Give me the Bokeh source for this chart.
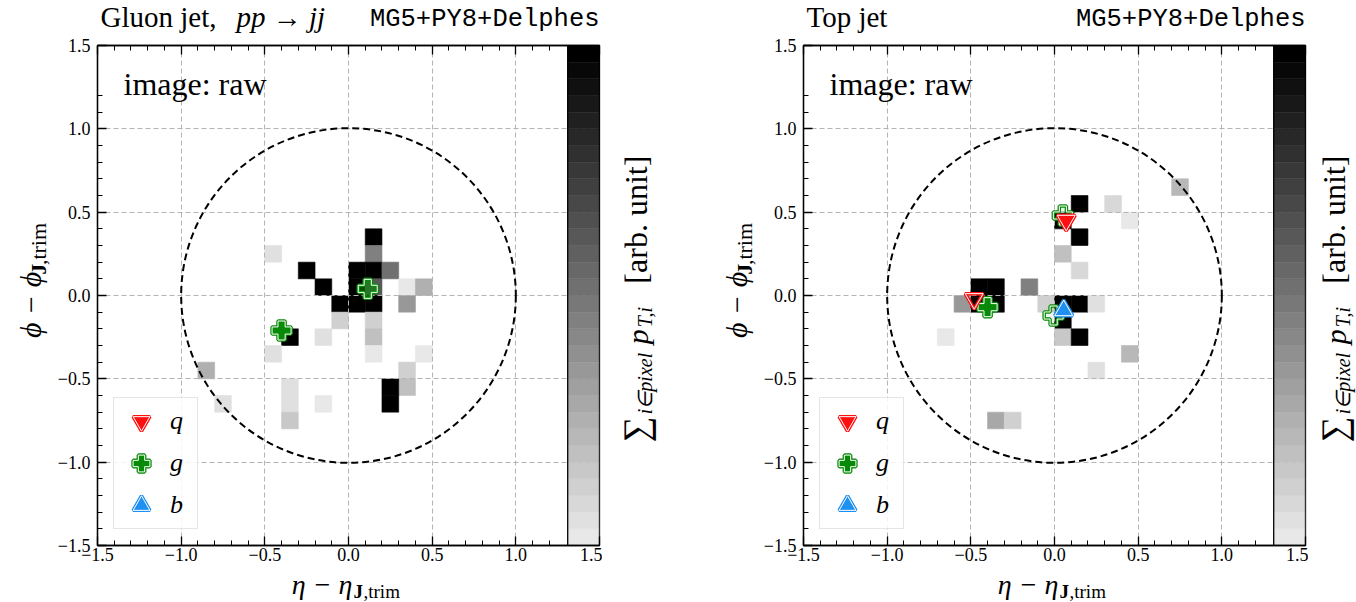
import numpy as np
from bokeh.plotting import figure
from bokeh.models import (ColumnDataSource, LinearColorMapper, FixedTicker, LinearAxis,
                          Label, Legend, LegendItem, CustomJSTickFormatter, Range1d)
from bokeh.layouts import row, column
from bokeh.embed import file_html
from bokeh.resources import INLINE

# ---------------- data ----------------
# jet images: pixel centres (eta, phi) and summed pT (arb. unit, 1.0 = saturated)
gluon_eta = [-0.45, 0.15, 0.15, -0.25, 0.05, 0.15, 0.25, -0.15, 0.05, 0.15, 0.35, 0.45,
             -0.05, 0.05, 0.15, 0.35, -0.05, 0.15, 0.15, 0.15, -0.35, -0.15, -0.45, 0.45,
             0.35, 0.35, 0.25, 0.25, -0.35, -0.35, -0.35, -0.15, -0.85, -0.75]
gluon_phi = [0.25, 0.35, 0.25, 0.15, 0.15, 0.15, 0.15, 0.05, 0.05, 0.05, 0.05, 0.05,
             -0.05, -0.05, -0.05, -0.05, -0.15, -0.15, -0.25, -0.35, -0.25, -0.25, -0.35, -0.35,
             -0.45, -0.55, -0.55, -0.65, -0.55, -0.65, -0.75, -0.65, -0.45, -0.65]
gluon_pt = [0.05, 1.0, 0.45, 1.0, 1.0, 1.0, 0.52, 1.0, 1.0, 0.63, 0.01, 0.24,
            1.0, 1.0, 1.0, 0.34, 0.10, 0.10, 0.17, 0.01, 1.0, 0.04, 0.04, 0.03,
            0.10, 0.17, 1.0, 1.0, 0.05, 0.05, 0.14, 0.02, 0.24, 0.05]

top_eta = [0.75, 0.15, 0.35, 0.45, 0.05, 0.15, 0.05, 0.15, -0.45, -0.35, -0.15,
           -0.55, -0.45, -0.35, -0.05, 0.05, 0.15, 0.25, 0.05, 0.05, 0.15, -0.65,
           0.45, 0.25, -0.35, -0.25]
top_phi = [0.65, 0.55, 0.55, 0.45, 0.45, 0.35, 0.25, 0.15, 0.05, 0.05, 0.05,
           -0.05, -0.05, -0.05, -0.05, -0.05, -0.05, -0.05, -0.15, -0.25, -0.25, -0.25,
           -0.35, -0.45, -0.75, -0.75]
top_pt = [0.22, 1.0, 0.07, 0.01, 1.0, 1.0, 0.17, 0.08, 1.0, 1.0, 0.45,
          0.34, 1.0, 1.0, 0.12, 1.0, 1.0, 0.05, 1.0, 0.14, 1.0, 0.03,
          0.21, 0.05, 0.27, 0.10]

# partons (eta, phi, opacity)
gluon_q_eta, gluon_q_phi, gluon_q_alpha = [], [], []
gluon_g_eta, gluon_g_phi, gluon_g_alpha = [0.115, -0.40], [0.04, -0.21], [0.6, 1.0]
gluon_b_eta, gluon_b_phi, gluon_b_alpha = [], [], []

top_q_eta, top_q_phi, top_q_alpha = [0.07, -0.48], [0.45, -0.02], [1.0, 0.08]
top_g_eta, top_g_phi, top_g_alpha = [0.05, -0.40, -0.005], [0.48, -0.07, -0.12], [0.08, 1.0, 0.08]
top_b_eta, top_b_phi, top_b_alpha = [0.055], [-0.09], [1.0]

jet_center_eta, jet_center_phi, jet_radius = [0.0], [0.0], 1.0
pixel_size = 0.1
axis_lim = (-1.5, 1.5)
major_ticks = [-1.5, -1.0, -0.5, 0.0, 0.5, 1.0, 1.5]
minor_ticks = [-1.4, -1.3, -1.2, -1.1, -0.9, -0.8, -0.7, -0.6, -0.4, -0.3, -0.2, -0.1,
               0.1, 0.2, 0.3, 0.4, 0.6, 0.7, 0.8, 0.9, 1.1, 1.2]

# ---------------- style / layout ----------------
SERIF = "Liberation Serif"
MONO = "Liberation Mono"
FW, FH = 502, 500               # frame size
ML, MR, MT, MB = 44, 3, 11, 23  # main figure borders
W_YL = 53                       # y-label strip width
H_TI = 34                       # title strip height
MAIN_W = ML + FW + MR
MAIN_H = MT + FH + MB
H_XL = 602 - (H_TI + MAIN_H)    # x-label strip height
BLOCK1_W, BLOCK2_W = 706, 650
grays = ["#%02x%02x%02x" % (v, v, v) for v in np.linspace(232, 0, 30).round().astype(int)]
mapper = LinearColorMapper(palette=grays, low=0.0, high=1.0)
CB_X0 = 1.31
ROT = np.pi / 2
BASE = 0.28                          # baseline correction for in-frame label
MID = {SERIF: 0.3375, MONO: 0.2665}  # baseline -> box-centre offset (em)


def fx(dx):
    return axis_lim[0] + dx * (axis_lim[1] - axis_lim[0]) / FW


def fy(dy):
    return axis_lim[1] - dy * (axis_lim[1] - axis_lim[0]) / FH


def htext(p, x, y, txt, size, font=SERIF, style="normal", align="left"):
    """horizontal text in a strip; y = baseline (px from strip bottom)"""
    p.add_layout(Label(x=x, y=y + MID[font] * size, text=txt, text_font=font,
                       text_font_size="%gpx" % size, text_font_style=style,
                       text_align=align, text_baseline="middle", text_color="black"))


def vtext(p, xc, yc, txt, size, style="normal"):
    """vertical (bottom-to-top) text centred on (xc, yc)"""
    p.add_layout(Label(x=xc, y=yc, text=txt, text_font=SERIF, text_font_size="%gpx" % size,
                       text_font_style=style, text_align="center", text_baseline="middle",
                       angle=ROT, text_color="black"))


def strip(w, h):
    f = figure(width=w, height=h, x_range=Range1d(0, w), y_range=Range1d(0, h),
               output_backend="svg", toolbar_location=None, min_border=0,
               x_axis_type=None, y_axis_type=None)
    f.outline_line_color = None
    f.background_fill_color = "white"
    f.border_fill_color = "white"
    return f


def style_axis(ax, labels=True, size=18):
    ax.ticker = FixedTicker(ticks=major_ticks, minor_ticks=minor_ticks)
    if labels:
        ax.formatter = CustomJSTickFormatter(
            code="return (tick < -1e-9 ? '\u2212' : '') + Math.abs(tick).toFixed(1);")
        ax.major_label_text_font_size = "%dpx" % size
    else:
        ax.formatter = CustomJSTickFormatter(code="return '';")
        ax.major_label_text_font_size = "0px"
    ax.major_tick_in = 9
    ax.major_tick_out = 0
    ax.minor_tick_in = 5
    ax.minor_tick_out = 0
    ax.major_tick_line_width = 1.3
    ax.minor_tick_line_width = 1.0
    ax.axis_line_width = 1.3
    ax.major_tick_line_color = "black"
    ax.minor_tick_line_color = "black"
    ax.axis_line_color = "black"
    ax.major_label_text_font = SERIF
    ax.major_label_text_color = "black"


def draw_partons(p, eta, phi, alpha, marker, color, size):
    src = ColumnDataSource(dict(eta=eta, phi=phi, alpha=alpha))
    p.scatter("eta", "phi", source=src, marker=marker, size=size, fill_color=color,
              fill_alpha="alpha", line_color=color, line_width=3.5)
    p.scatter("eta", "phi", source=src, marker=marker, size=size, fill_color=None,
              line_color="white", line_width=1.0)
    # legend swatch renderers (no visible point)
    lsrc = ColumnDataSource(dict(eta=[np.nan], phi=[np.nan]))
    l1 = p.scatter("eta", "phi", source=lsrc, marker=marker, size=size, fill_color=color,
                   line_color=color, line_width=3.5)
    l2 = p.scatter("eta", "phi", source=lsrc, marker=marker, size=size, fill_color=None,
                   line_color="white", line_width=1.0)
    return [l1, l2]


def main_panel(pix_eta, pix_phi, pix_pt, partons):
    p = figure(width=MAIN_W, height=MAIN_H, x_range=Range1d(*axis_lim),
               y_range=Range1d(*axis_lim), output_backend="svg", toolbar_location=None,
               min_border_left=ML, min_border_right=MR, min_border_top=MT,
               min_border_bottom=MB)
    p.background_fill_color = "white"
    p.border_fill_color = "white"
    p.outline_line_color = "black"
    p.outline_line_width = 1.3

    style_axis(p.xaxis[0], size=18)
    p.xaxis[0].major_label_standoff = 2
    style_axis(p.yaxis[0], size=18)
    p.yaxis[0].major_label_standoff = 7
    top_ax = LinearAxis()
    style_axis(top_ax, labels=False)
    top_ax.major_label_standoff = 0
    p.add_layout(top_ax, "above")

    for g in (p.xgrid[0], p.ygrid[0]):
        g.ticker = FixedTicker(ticks=major_ticks)
        g.grid_line_color = "#b4b4b4"
        g.grid_line_dash = "5 3"
        g.grid_line_width = 1.0

    # jet image
    src = ColumnDataSource(dict(eta=pix_eta, phi=pix_phi, pt=pix_pt))
    p.rect("eta", "phi", width=pixel_size, height=pixel_size, source=src,
           fill_color={"field": "pt", "transform": mapper},
           line_color={"field": "pt", "transform": mapper}, line_width=0.6, level="image")

    # jet radius
    p.circle(x=jet_center_eta, y=jet_center_phi, radius=jet_radius, fill_color=None,
             line_color="black", line_width=2.0, line_dash="7 4")

    # partons: gluons first, then quarks, then b
    (qe, qp, qa), (ge, gp, ga), (be, bp, ba) = partons
    leg_g = draw_partons(p, ge, gp, ga, "plus", "#078a07", 19)
    leg_q = draw_partons(p, qe, qp, qa, "inverted_triangle", "#ff1010", 18)
    leg_b = draw_partons(p, be, bp, ba, "triangle", "#2090f0", 18)

    legend = Legend(items=[LegendItem(label="q", renderers=leg_q),
                           LegendItem(label="g", renderers=leg_g),
                           LegendItem(label="b", renderers=leg_b)],
                    location="bottom_left", margin=16, padding=2, spacing=0,
                    glyph_width=50, glyph_height=42, label_standoff=4, label_width=25,
                    label_text_font=SERIF, label_text_font_style="italic",
                    label_text_font_size="26px", label_text_color="black",
                    border_line_color="#cccccc", border_line_width=1.2,
                    background_fill_color="white", background_fill_alpha=0.85)
    p.add_layout(legend)

    # colour bar (palette steps)
    edges = np.linspace(axis_lim[0], axis_lim[1], len(grays) + 1)
    p.quad(left=CB_X0, right=axis_lim[1], bottom=edges[:-1], top=edges[1:],
           fill_color=grays, line_color=grays, line_width=0.5)
    p.quad(left=[CB_X0], right=[axis_lim[1]], bottom=[axis_lim[0]], top=[axis_lim[1]],
           fill_color=None, line_color="black", line_width=1.3)

    p.add_layout(Label(x=fx(26), y=fy(47 - BASE * 32), text="image: raw", text_font=SERIF,
                       text_font_size="32px", text_align="left",
                       text_baseline="alphabetic", text_color="black"))
    return p


def block(width, pix, partons, title_parts, cb_xc):
    main = main_panel(*pix, partons)
    cb_w = width - W_YL - MAIN_W

    def sy(page_y):
        return MAIN_H - (page_y - H_TI)

    # title strip (baseline 7.8 px above strip bottom)
    ti = strip(width, H_TI)
    for (x, txt, size, font, style, align) in title_parts:
        htext(ti, x, 7.8, txt, size, font=font, style=style, align=align)

    # y label strip
    yl = strip(W_YL, MAIN_H)
    vtext(yl, 30, sy(311), "\u03d5 \u2212 \u03d5", 30, style="italic")
    vtext(yl, 38, sy(273), "J", 22, style="bold")
    vtext(yl, 38, sy(246), ",trim", 22)

    # colour-bar label strip
    cb = strip(cb_w, MAIN_H)
    vtext(cb, cb_xc, sy(444), "\u2211", 36)
    vtext(cb, cb_xc + 9, sy(395), "i\u2208pixel", 20, style="italic")
    vtext(cb, cb_xc + 2, sy(345), "p", 30, style="italic")
    vtext(cb, cb_xc + 9, sy(324), "T,i", 20, style="italic")
    vtext(cb, cb_xc, sy(220), "[arb. unit]", 32)

    # x label strip (baselines measured from strip bottom)
    xl = strip(width, H_XL)
    htext(xl, 352, 9, "\u03b7 \u2212 \u03b7", 28, style="italic", align="right")
    htext(xl, 353, 5, "J", 19, style="bold")
    htext(xl, 363, 5, ",trim", 19)

    return column(ti, row(yl, main, cb), xl)


b1 = block(BLOCK1_W, (gluon_eta, gluon_phi, gluon_pt),
           [(gluon_q_eta, gluon_q_phi, gluon_q_alpha),
            (gluon_g_eta, gluon_g_phi, gluon_g_alpha),
            (gluon_b_eta, gluon_b_phi, gluon_b_alpha)],
           [(100, "Gluon jet,", 29, SERIF, "normal", "left"),
            (236, "pp \u2192 jj", 29, SERIF, "italic", "left"),
            (W_YL + ML + FW, "MG5+PY8+Delphes", 25.5, MONO, "normal", "right")],
           33)
b2 = block(BLOCK2_W, (top_eta, top_phi, top_pt),
           [(top_q_eta, top_q_phi, top_q_alpha),
            (top_g_eta, top_g_phi, top_g_alpha),
            (top_b_eta, top_b_phi, top_b_alpha)],
           [(100, "Top jet", 29, SERIF, "normal", "left"),
            (W_YL + ML + FW, "MG5+PY8+Delphes", 25.5, MONO, "normal", "right")],
           25)

layout = row(b1, b2)
open("out.html", "w").write(file_html(layout, INLINE))
